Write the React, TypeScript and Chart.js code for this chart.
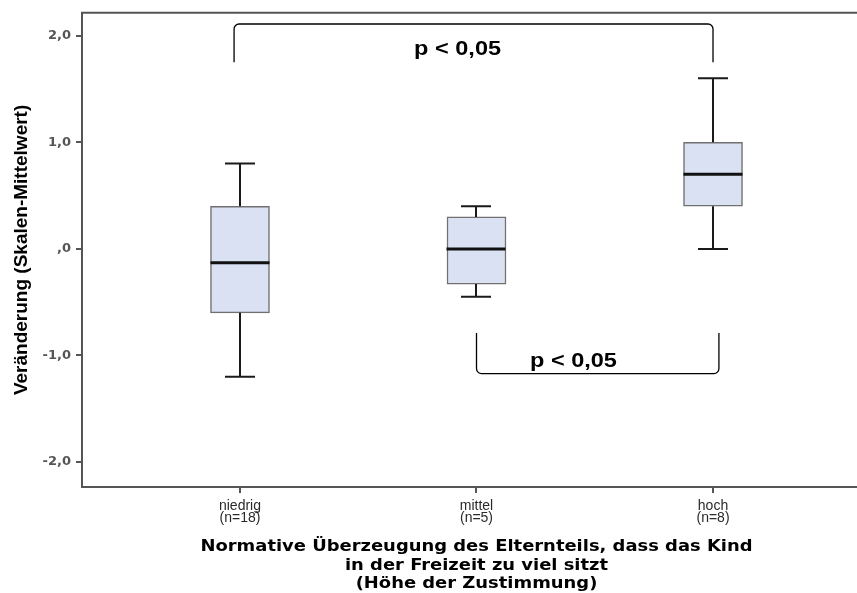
import React, { useEffect, useRef } from 'react';
import { Chart, registerables } from 'chart.js';

Chart.register(...registerables);

// ---- data ----
const categories: string[][] = [['niedrig', '(n=18)'], ['mittel', '(n=5)'], ['hoch', '(n=8)']];
const positions = [1, 2, 3];
const whiskerLow = [-1.2, -0.45, 0.0];
const q1 = [-0.6, -0.33, 0.4];
const median = [-0.13, 0.0, 0.7];
const q3 = [0.4, 0.3, 1.0];
const whiskerHigh = [0.8, 0.4, 1.6];

const yTicks = [-2, -1, 0, 1, 2];
const yTickLabels = ['-2,0', '-1,0', ',0', '1,0', '2,0'];
const yTitle = 'Veränderung (Skalen-Mittelwert)';
const xTitle = [
  'Normative Überzeugung des Elternteils, dass das Kind',
  'in der Freizeit zu viel sitzt',
  '(Höhe der Zustimmung)',
];
const sigLabel = 'p < 0,05';
// significance brackets in data units: x span, y of the bar, y of the lip ends
const bracketXs = [[0.975, 3.0], [2.0, 3.025]];
const bracketBarY = [2.11, -1.17];
const bracketLipY = [1.75, -0.79];
const sigLabelX = [1.92, 2.41];
const sigLabelY = [1.87, -1.05];

const FONT = "'Liberation Sans', Arial, Helvetica, sans-serif";
const NARROW = "'Liberation Sans Narrow', 'Arial Narrow', 'Liberation Sans', Arial, sans-serif";
const WIDE = "'DejaVu Sans', Verdana, sans-serif";

const decorPlugin = {
  id: 'decor',
  afterDatasetsDraw(chart: any) {
    const { ctx, scales, chartArea } = chart;
    const x = scales.x;
    const y = scales.y;
    ctx.save();
    // top frame line
    ctx.strokeStyle = '#555';
    ctx.lineWidth = 2;
    ctx.beginPath();
    ctx.moveTo(chartArea.left - 1, chartArea.top);
    ctx.lineTo(chartArea.right + 1, chartArea.top);
    ctx.stroke();

    const boxHalf = 29.5;
    const capHalf = 15;
    positions.forEach((p, i) => {
      const cx = Math.round(x.getPixelForValue(p));
      const yHi = y.getPixelForValue(whiskerHigh[i]);
      const yLo = y.getPixelForValue(whiskerLow[i]);
      const yQ1 = y.getPixelForValue(q1[i]);
      const yQ3 = y.getPixelForValue(q3[i]);
      const yMed = y.getPixelForValue(median[i]);
      ctx.strokeStyle = '#1a1a1a';
      ctx.lineWidth = 2;
      ctx.beginPath();
      ctx.moveTo(cx, yQ3);
      ctx.lineTo(cx, yHi);
      ctx.moveTo(cx, yQ1);
      ctx.lineTo(cx, yLo);
      ctx.moveTo(cx - capHalf, yHi);
      ctx.lineTo(cx + capHalf, yHi);
      ctx.moveTo(cx - capHalf, yLo);
      ctx.lineTo(cx + capHalf, yLo);
      ctx.stroke();
      ctx.lineWidth = 3;
      ctx.strokeStyle = '#111';
      ctx.beginPath();
      ctx.moveTo(cx - boxHalf, yMed);
      ctx.lineTo(cx + boxHalf, yMed);
      ctx.stroke();
    });

    // significance brackets
    ctx.strokeStyle = '#000';
    ctx.lineWidth = 1.3;
    bracketXs.forEach((xs, i) => {
      const x0 = x.getPixelForValue(xs[0]);
      const x1 = x.getPixelForValue(xs[1]);
      const yb = y.getPixelForValue(bracketBarY[i]);
      const yl = y.getPixelForValue(bracketLipY[i]);
      const r = 5;
      ctx.beginPath();
      ctx.moveTo(x0, yl);
      ctx.arcTo(x0, yb, x0 + r, yb, r);
      ctx.lineTo(x1 - r, yb);
      ctx.arcTo(x1, yb, x1, yl, r);
      ctx.lineTo(x1, yl);
      ctx.stroke();
    });
    ctx.fillStyle = '#000';
    ctx.font = `bold 21px ${FONT}`;
    ctx.textAlign = 'center';
    ctx.textBaseline = 'middle';
    sigLabelX.forEach((sx, i) => {
      ctx.save();
      ctx.translate(x.getPixelForValue(sx), y.getPixelForValue(sigLabelY[i]));
      ctx.scale(1.12, 1);
      ctx.fillText(sigLabel, 0, 0);
      ctx.restore();
    });

    // x-axis title (three lines), centred under the axis
    const tx = (x.left + x.right) / 2;
    const lineH = 18.5;
    const lastY = x.bottom - 9;
    ctx.font = `bold 16px ${WIDE}`;
    xTitle.forEach((line, i) => {
      ctx.save();
      ctx.translate(tx, lastY - (xTitle.length - 1 - i) * lineH);
      ctx.scale(1.12, 1);
      ctx.fillText(line, 0, 0);
      ctx.restore();
    });
    ctx.restore();
  },
};

export default function App() {
  const ref = useRef<HTMLCanvasElement | null>(null);
  useEffect(() => {
    document.body.style.margin = '0';
    document.body.style.overflow = 'hidden';
    const canvas = ref.current;
    if (!canvas) return;
    const chart = new Chart(canvas, {
      type: 'bar',
      data: {
        datasets: [
          {
            data: positions.map((p, i) => ({ x: p, y: [q1[i], q3[i]] })) as any,
            backgroundColor: '#d9e1f2',
            borderColor: '#707070',
            borderWidth: 1.5,
            borderSkipped: false,
            barThickness: 59,
          },
        ],
      },
      options: {
        responsive: false,
        animation: false,
        devicePixelRatio: 1,
        layout: { padding: { top: 11, right: 0, left: 0, bottom: 0 } },
        plugins: { legend: { display: false }, tooltip: { enabled: false } },
        scales: {
          x: {
            type: 'linear',
            offset: false,
            min: 0.332,
            max: 3.668,
            afterBuildTicks: (scale: any) => {
              scale.ticks = positions.map((v) => ({ value: v }));
            },
            afterFit: (scale: any) => {
              scale.height = 106;
            },
            grid: { offset: false, drawOnChartArea: false, drawTicks: true, tickLength: 6, color: '#555', lineWidth: 2 },
            border: { display: true, color: '#555', width: 2 },
            ticks: {
              autoSkip: false,
              maxRotation: 0,
              padding: 6.5,
              color: '#2a2a2a',
              font: { family: NARROW, size: 14, lineHeight: '12.5px' } as any,
              callback: (value: any) => {
                const idx = positions.indexOf(Number(value));
                return idx >= 0 ? categories[idx] : '';
              },
            },
            title: { display: false },
          },
          y: {
            type: 'linear',
            min: -2.234,
            max: 2.215,
            afterBuildTicks: (scale: any) => {
              scale.ticks = yTicks.map((v) => ({ value: v }));
            },
            afterFit: (scale: any) => {
              scale.width = 82;
            },
            grid: { drawOnChartArea: false, drawTicks: true, tickLength: 6, color: '#555', lineWidth: 2 },
            border: { display: true, color: '#555', width: 2 },
            ticks: {
              padding: 5,
              color: '#555',
              font: { family: WIDE, size: 13, weight: 'bold' },
              callback: (value: any) => {
                const idx = yTicks.indexOf(Number(value));
                return idx >= 0 ? yTickLabels[idx] : '';
              },
            },
            title: {
              display: true,
              text: yTitle,
              color: '#000',
              font: { family: FONT, size: 19, weight: 'bold' },
              padding: { top: 10, bottom: 0 },
            },
          },
        },
      },
      plugins: [decorPlugin],
    });
    return () => chart.destroy();
  }, []);
  return (
    <div style={{ width: 857, height: 593, overflow: 'hidden' }}>
      <canvas ref={ref} width={871} height={593} style={{ display: 'block' }} />
    </div>
  );
}
